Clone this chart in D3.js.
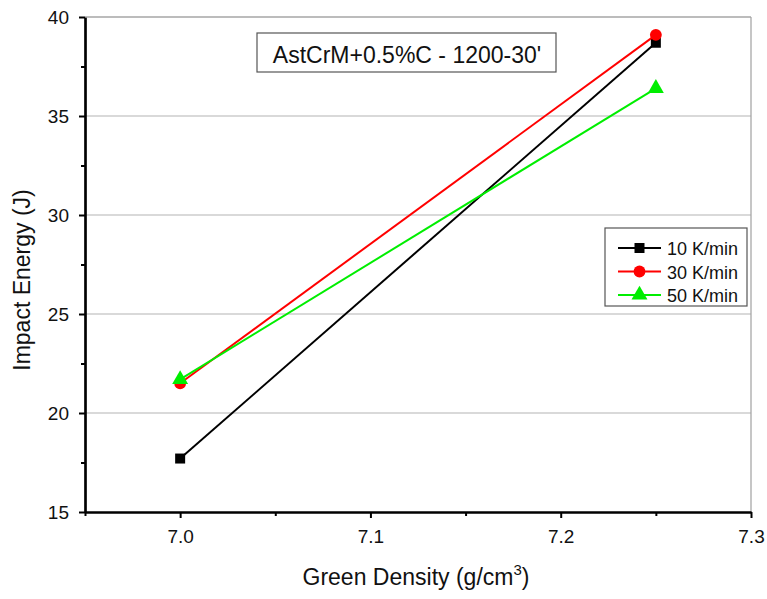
<!DOCTYPE html>
<html><head><meta charset="utf-8">
<script src="https://cdn.jsdelivr.net/npm/d3@7"></script>
<style>body{margin:0;background:#fff;}svg{display:block;font-family:"Liberation Sans",Arial,sans-serif;}</style>
</head><body>
<script>
const densities = [7.0, 7.25];
const seriesNames = ["10 K/min", "30 K/min", "50 K/min"];
const series10 = [17.7, 38.7];
const series30 = [21.5, 39.1];
const series50 = [21.7, 36.4];
const colors = ["#000000", "#ff0000", "#00ee00"];
const symbols = [d3.symbolSquare, d3.symbolCircle, d3.symbolTriangle];
const xTicks = [7.0, 7.1, 7.2, 7.3];
const xMinor = [6.95, 7.05, 7.15, 7.25];
const yTicks = [15, 20, 25, 30, 35, 40];
const yMinor = [17.5, 22.5, 27.5, 32.5, 37.5];
const title = "AstCrM+0.5%C - 1200-30'";

const W = 767, H = 599;
const L = 85, R = 751, T = 17, B = 512;
const svg = d3.select("body").append("svg").attr("width", W).attr("height", H);
const x = d3.scaleLinear().domain([6.95, 7.3]).range([L, R]);
const y = d3.scaleLinear().domain([15, 40]).range([B, T]);

// gridlines
svg.append("g").selectAll("line").data(yTicks.filter(v => v > 15)).join("line")
  .attr("x1", L).attr("x2", R).attr("y1", d => y(d)).attr("y2", d => y(d))
  .attr("stroke", "#b4b4b4").attr("stroke-width", 1.2);
// right border
svg.append("line").attr("x1", R).attr("x2", R).attr("y1", T).attr("y2", B).attr("stroke", "#a0a0a0").attr("stroke-width", 1.2);

// axes
const xAxis = svg.append("g").attr("transform", `translate(0,${B})`)
  .call(d3.axisBottom(x).tickValues(xTicks).tickFormat(d3.format(".1f")).tickSize(6).tickSizeOuter(0));
const xAxisMinor = svg.append("g").attr("transform", `translate(0,${B})`)
  .call(d3.axisBottom(x).tickValues(xMinor).tickFormat("").tickSize(4).tickSizeOuter(0));
const yAxis = svg.append("g").attr("transform", `translate(${L},0)`)
  .call(d3.axisLeft(y).tickValues(yTicks).tickSize(6).tickSizeOuter(0));
const yAxisMinor = svg.append("g").attr("transform", `translate(${L},0)`)
  .call(d3.axisLeft(y).tickValues(yMinor).tickFormat("").tickSize(4).tickSizeOuter(0));
[xAxis, xAxisMinor, yAxis, yAxisMinor].forEach(g => {
  g.select(".domain").attr("stroke", "#000").attr("stroke-width", 2.2);
  g.selectAll(".tick line").attr("stroke", "#000").attr("stroke-width", 2);
  g.selectAll("text").attr("font-family", "Liberation Sans, Arial, sans-serif").attr("font-size", 19).attr("fill", "#111");
});
xAxis.selectAll("text").attr("y", 0).attr("dy", 31);
yAxis.selectAll("text").attr("x", -16).attr("dy", "0.36em");

// top border
svg.append("line").attr("x1", L).attr("x2", R).attr("y1", T).attr("y2", T).attr("stroke", "#a0a0a0").attr("stroke-width", 1.2);

// series
const allSeries = [series10, series30, series50];
const line = d3.line().x((d, i) => x(densities[i])).y(d => y(d));
const symSizes = [100, 110, 110];
allSeries.forEach((s, k) => {
  svg.append("path").datum(s).attr("d", line).attr("fill", "none").attr("stroke", colors[k]).attr("stroke-width", 2);
  svg.append("g").selectAll("path").data(s).join("path")
    .attr("transform", (d, i) => `translate(${x(densities[i])},${y(d)})`)
    .attr("d", d3.symbol().type(symbols[k]).size(symSizes[k]))
    .attr("fill", colors[k]);
});

// title box
const tb = svg.append("g");
tb.append("rect").attr("x", 257).attr("y", 33).attr("width", 299).attr("height", 39)
  .attr("fill", "#fff").attr("stroke", "#555").attr("stroke-width", 1.2);
tb.append("text").attr("x", 407).attr("y", 63).attr("text-anchor", "middle")
  .attr("font-size", 23).attr("fill", "#111").text(title);

// legend
const lg = svg.append("g");
lg.append("rect").attr("x", 605).attr("y", 228).attr("width", 142).attr("height", 78)
  .attr("fill", "#fff").attr("stroke", "#555").attr("stroke-width", 1.2);
seriesNames.forEach((n, k) => {
  const yy = 248 + k * 23.5;
  lg.append("line").attr("x1", 618).attr("x2", 661).attr("y1", yy).attr("y2", yy)
    .attr("stroke", colors[k]).attr("stroke-width", 2);
  lg.append("path").attr("transform", `translate(639.5,${yy})`)
    .attr("d", d3.symbol().type(symbols[k]).size(symSizes[k])).attr("fill", colors[k]);
  lg.append("text").attr("x", 667).attr("y", yy + 7).attr("font-size", 18).attr("fill", "#111").text(n);
});

// axis titles
svg.append("text").attr("transform", `translate(30,280) rotate(-90)`)
  .attr("text-anchor", "middle").attr("font-size", 23).attr("fill", "#111").text("Impact Energy (J)");
const xl = svg.append("text").attr("x", 416).attr("y", 585).attr("text-anchor", "middle")
  .attr("font-size", 23).attr("fill", "#111");
xl.append("tspan").text("Green Density (g/cm");
xl.append("tspan").attr("dy", -10).attr("font-size", 15).text("3");
xl.append("tspan").attr("dy", 10).text(")");
</script>
</body></html>
